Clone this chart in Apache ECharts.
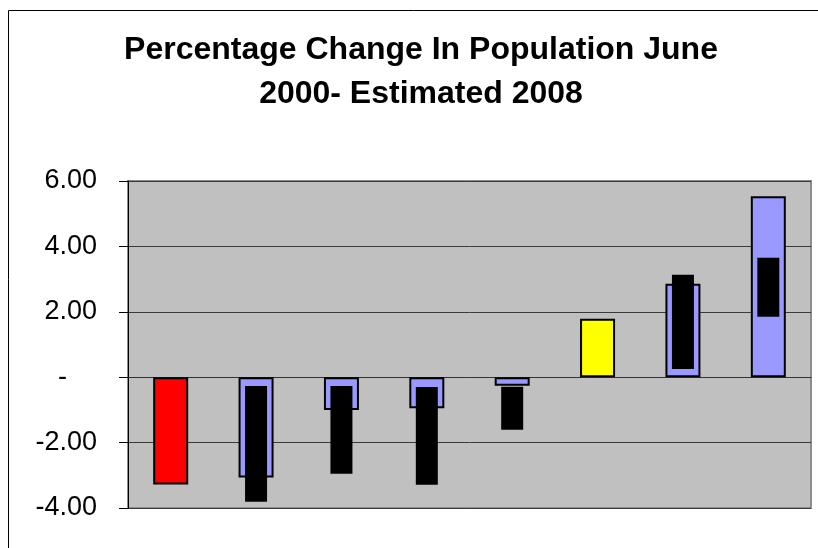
<!DOCTYPE html>
<html>
<head>
<meta charset="utf-8">
<title>Percentage Change In Population</title>
<script src="https://cdn.jsdelivr.net/npm/echarts@6/dist/echarts.min.js"></script>
<style>
  html, body { margin: 0; padding: 0; background: #ffffff; }
  #chart { width: 818px; height: 548px; }
</style>
</head>
<body>
<div id="chart"></div>
<script>
// Category slots along the x axis (labels are not shown on the axis)
const categories = ['1', '2', '3', '4', '5', '6', '7', '8'];

// Percentage change per category (main columns)
const changeValues = [-3.28, -3.07, -1.00, -0.95, -0.26, 1.79, 2.86, 5.53];

// Floating black range bars: low and high end per category (null = none)
const rangeLow  = [null, -3.81, -2.95, -3.29, -1.61, null, 0.25, 1.85];
const rangeHigh = [null, -0.27, -0.27, -0.30, -0.29, null, 3.13, 3.65];

// Value axis ticks and their printed labels
const yTicks = [-4, -2, 0, 2, 4, 6];
const yTickLabels = ['-4.00', '-2.00', '-', '2.00', '4.00', '6.00'];

// Fill colour of each column
const columnColors = ['#ff0000', '#9999ff', '#9999ff', '#9999ff', '#9999ff', '#ffff00', '#9999ff', '#9999ff'];

const FONT = "'Liberation Sans', Arial, sans-serif";

const chart = echarts.init(document.getElementById('chart'), null, { renderer: 'canvas' });

const rangeData = [];
categories.forEach((c, i) => {
  if (rangeLow[i] !== null && rangeHigh[i] !== null) {
    rangeData.push([i, rangeLow[i], rangeHigh[i]]);
  }
});

chart.setOption({
  animation: false,
  backgroundColor: '#ffffff',
  graphic: [
    {
      type: 'rect',
      shape: { x: 8.5, y: 10.5, width: 900, height: 600 },
      style: { fill: 'none', stroke: '#000000', lineWidth: 1 },
      silent: true
    },
    {
      type: 'text',
      x: 421, y: 50,
      style: {
        text: 'Percentage Change In Population June',
        font: 'bold 32px ' + FONT,
        fill: '#000000',
        align: 'center',
        verticalAlign: 'middle'
      }
    },
    {
      type: 'text',
      x: 421, y: 94,
      style: {
        text: '2000- Estimated 2008',
        font: 'bold 32px ' + FONT,
        fill: '#000000',
        align: 'center',
        verticalAlign: 'middle'
      }
    }
  ],
  grid: {
    left: 128, right: 7, top: 181, bottom: 40,
    show: true,
    backgroundColor: '#c0c0c0',
    borderColor: '#8c8c8c',
    borderWidth: 2
  },
  xAxis: {
    type: 'category',
    data: categories,
    axisLine: { show: true, onZero: true, lineStyle: { color: '#333333', width: 1 } },
    axisTick: { show: false },
    axisLabel: { show: false },
    splitLine: { show: false }
  },
  yAxis: {
    type: 'value',
    min: yTicks[0],
    max: yTicks[yTicks.length - 1],
    interval: 2,
    axisLine: { show: true, lineStyle: { color: '#000000', width: 1 } },
    axisTick: { show: true, length: 9, lineStyle: { color: '#000000', width: 1 } },
    axisLabel: {
      margin: 31,
      color: '#000000',
      fontFamily: FONT,
      fontSize: 27,
      formatter: function (v) {
        const idx = yTicks.indexOf(v);
        const txt = idx >= 0 ? yTickLabels[idx] : String(v);
        return v === 0 ? '{dash|' + txt + '}' : txt;
      },
      rich: {
        dash: { fontFamily: FONT, fontSize: 27, color: '#000000', padding: [0, 30, 0, 0] }
      }
    },
    splitLine: { show: true, lineStyle: { color: '#3a3a3a', width: 1 } }
  },
  series: [
    {
      name: 'Change',
      type: 'bar',
      barWidth: 35,
      data: changeValues.map((v, i) => ({
        value: v,
        itemStyle: { color: columnColors[i] }
      })),
      itemStyle: { borderColor: '#000000', borderWidth: 2 },
      z: 2
    },
    {
      name: 'Range',
      type: 'custom',
      data: rangeData,
      encode: { x: 0, y: [1, 2] },
      z: 3,
      renderItem: function (params, api) {
        const hi = api.coord([api.value(0), api.value(2)]);
        const lo = api.coord([api.value(0), api.value(1)]);
        const w = 22;
        return {
          type: 'rect',
          shape: { x: hi[0] - w / 2, y: hi[1], width: w, height: lo[1] - hi[1] },
          style: { fill: '#000000' }
        };
      }
    }
  ]
});
</script>
</body>
</html>
